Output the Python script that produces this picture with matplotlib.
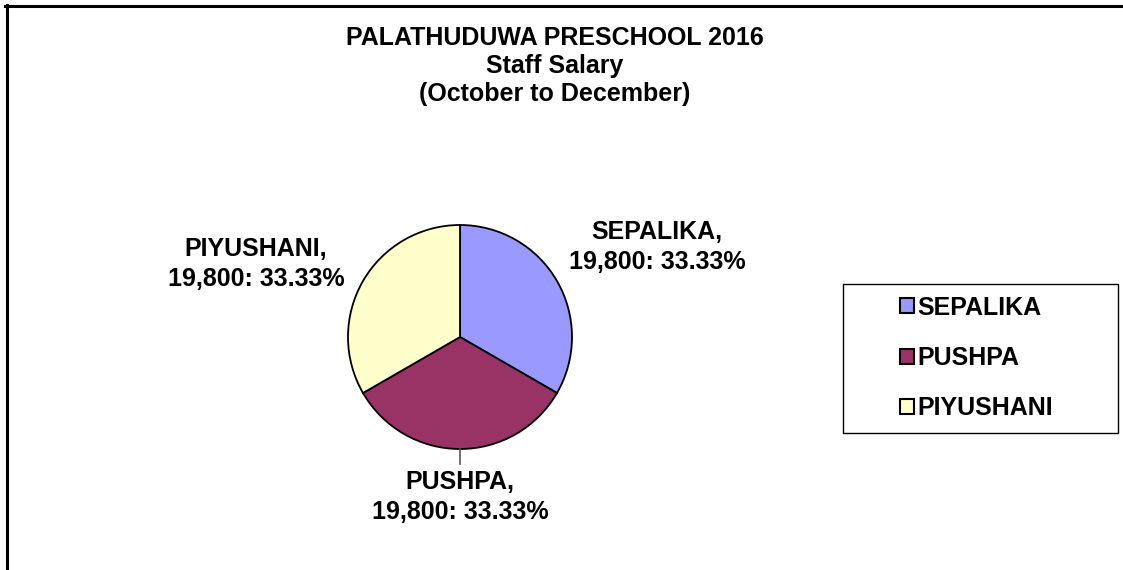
"""Staff salary pie chart, Palathuduwa Preschool 2016."""

import matplotlib

matplotlib.use("Agg")
import matplotlib.pyplot as plt
from matplotlib.lines import Line2D
from matplotlib.patches import Patch, Rectangle

plt.rcParams["font.family"] = ["Liberation Sans", "DejaVu Sans"]
plt.rcParams["font.weight"] = "bold"

staff = ["SEPALIKA", "PUSHPA", "PIYUSHANI"]
salary = [19800, 19800, 19800]
colors = ["#9999FF", "#993366", "#FFFFCC"]
title_lines = ["PALATHUDUWA PRESCHOOL 2016", "Staff Salary", "(October to December)"]

W, H = 1123, 570
FS = 18

fig = plt.figure(figsize=(W / 100, H / 100), dpi=100)
ax = fig.add_axes([0, 0, 1, 1])

# pie centre / radius in pixels (y measured from bottom)
cx, cy, r = 460, H - 337, 112
ax.pie(
    salary,
    colors=colors,
    startangle=90,
    counterclock=False,
    center=(cx, cy),
    radius=r,
    wedgeprops={"edgecolor": "black", "linewidth": 1.3},
    frame=True,
)
ax.axis("off")
ax.set_xlim(0, W)
ax.set_ylim(0, H)

total = sum(salary)
label_pos = [(657, H - 247), (460, H - 497), (256, H - 264)]
for name, val, (lx, ly) in zip(staff, salary, label_pos):
    ax.text(
        lx, ly, f"{name},\n{val:,}: {val / total * 100:.2f}%",
        ha="center", va="center", fontsize=FS, fontweight="bold",
        linespacing=1.3,
    )

# leader line for the bottom label
ax.plot([cx, cx], [cy - r, cy - r - 15], color="#555555", lw=1.2)

ax.text(
    555, H - 66, "\n".join(title_lines),
    ha="center", va="center", fontsize=FS, fontweight="bold", linespacing=1.2,
)

# legend box
ax.add_patch(Rectangle((843, H - 433), 275, 149, facecolor="white",
                       edgecolor="black", linewidth=1.0, zorder=2))
handles = [Patch(facecolor=c, edgecolor="black", linewidth=1.5) for c in colors]
ax.legend(
    handles, staff,
    loc="center left", bbox_to_anchor=(900 / W, 1 - 358 / H),
    fontsize=FS, frameon=False, borderpad=0,
    handlelength=0.55, handleheight=0.55, handletextpad=0.15, labelspacing=1.05,
    borderaxespad=0,
)

# chart border (top and left edges visible)
fig.add_artist(Line2D([5 / W, 1], [1 - 5.5 / H, 1 - 5.5 / H], color="black", lw=2.2))
fig.add_artist(Line2D([6.5 / W, 6.5 / W], [0, 1 - 4.5 / H], color="black", lw=2.2))

fig.savefig("out.png", dpi=100)
